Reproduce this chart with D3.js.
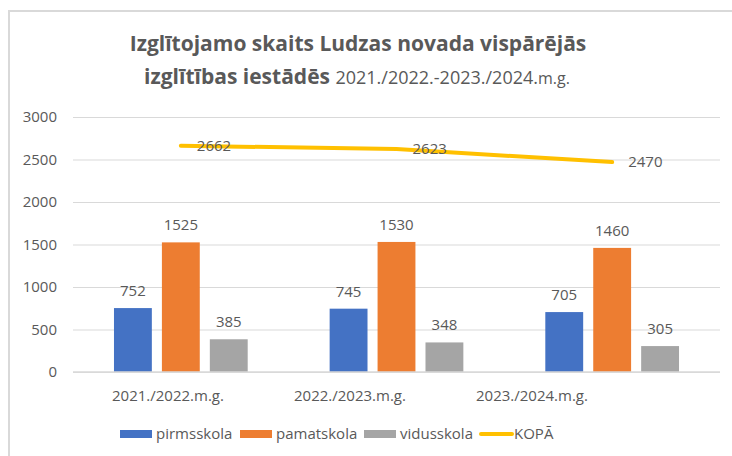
<!DOCTYPE html>
<html>
<head>
<meta charset="utf-8">
<script src="https://cdn.jsdelivr.net/npm/d3@7"></script>
<style>
  body { margin: 0; background: #fff; }
  svg { display: block; font-family: "Open Sans", "Noto Sans", sans-serif; }
</style>
</head>
<body>
<svg id="chart" width="732" height="456"></svg>
<script>
// data
const years = ["2021./2022.m.g.", "2022./2023.m.g.", "2023./2024.m.g."];
const seriesNames = ["pirmsskola", "pamatskola", "vidusskola"];
const pirmsskola = [752, 745, 705];
const pamatskola = [1525, 1530, 1460];
const vidusskola = [385, 348, 305];
const kopa = [2662, 2623, 2470];
const yTicks = [0, 500, 1000, 1500, 2000, 2500, 3000];

const colors = {
  pirmsskola: "#4472C4",
  pamatskola: "#ED7D31",
  vidusskola: "#A5A5A5",
  KOPĀ: "#FFC000"
};
const textColor = "#595959";
const gridColor = "#d9d9d9";

const rows = years.map((y, i) => ({
  year: y,
  pirmsskola: pirmsskola[i],
  pamatskola: pamatskola[i],
  vidusskola: vidusskola[i],
  kopa: kopa[i]
}));

const svg = d3.select("#chart");

// frame (chart border, cropped at right/bottom)
svg.append("path")
    .attr("d", "M9,456 V11 H732")
    .attr("fill", "none")
    .attr("stroke", gridColor)
    .attr("stroke-width", 2);

// title
const title = svg.append("text")
    .attr("text-anchor", "middle")
    .attr("fill", textColor);
title.append("tspan")
    .attr("x", 358).attr("y", 51)
    .attr("font-size", 21).attr("font-weight", "bold")
    .text("Izglītojamo skaits Ludzas novada vispārējās");
const t2 = title.append("tspan").attr("x", 357).attr("y", 84);
t2.append("tspan").attr("font-size", 21).attr("font-weight", "bold").text("izglītības iestādēs ");
t2.append("tspan").attr("font-size", 18).text("2021./2022.-2023./2024.");
t2.append("tspan").attr("font-size", 16).text("m.g.");

const plot = {left: 73, right: 720, top: 117, bottom: 372};

const x = d3.scaleBand()
    .domain(years)
    .range([plot.left, plot.right]);

const xInner = d3.scaleBand()
    .domain(seriesNames)
    .range([x.bandwidth() * 0.19, x.bandwidth() * 0.81])
    .paddingInner(0.21);

const y = d3.scaleLinear()
    .domain([0, 3000])
    .range([plot.bottom, plot.top]);

// gridlines + y labels
const yAxis = svg.append("g")
    .attr("transform", `translate(${plot.left},0)`)
    .call(d3.axisLeft(y)
        .tickValues(yTicks)
        .tickFormat(d3.format("d"))
        .tickSize(-(plot.right - plot.left))
        .tickPadding(16))
    .call(g => g.select(".domain").remove());
yAxis.selectAll(".tick line").attr("stroke", gridColor).attr("stroke-width", 1);
yAxis.selectAll(".tick text")
    .attr("fill", textColor)
    .attr("font-size", 15)
    .attr("font-family", "\"Open Sans\", \"Noto Sans\", sans-serif");

// bars
const groups = svg.append("g").selectAll("g")
  .data(rows)
  .join("g")
    .attr("transform", d => `translate(${x(d.year)},0)`);

groups.selectAll("rect")
  .data(d => seriesNames.map(k => ({key: k, value: d[k]})))
  .join("rect")
    .attr("x", d => xInner(d.key))
    .attr("width", xInner.bandwidth())
    .attr("y", d => y(d.value))
    .attr("height", d => y(0) - y(d.value))
    .attr("fill", d => colors[d.key]);

groups.selectAll(".bar-label")
  .data(d => seriesNames.map(k => ({key: k, value: d[k]})))
  .join("text")
    .attr("class", "bar-label")
    .attr("x", d => xInner(d.key) + xInner.bandwidth() / 2)
    .attr("y", d => y(d.value) - 12)
    .attr("text-anchor", "middle")
    .attr("font-size", 15)
    .attr("fill", textColor)
    .text(d => d.value);

// x baseline
svg.append("line")
    .attr("x1", plot.left).attr("x2", plot.right)
    .attr("y1", y(0)).attr("y2", y(0))
    .attr("stroke", gridColor).attr("stroke-width", 1.5);

// category labels (positioned as in the source picture)
const xLabel = d3.scalePoint()
    .domain(years)
    .range([168, 532]);

svg.append("g").selectAll("text")
  .data(years)
  .join("text")
    .attr("x", d => xLabel(d))
    .attr("y", 401)
    .attr("text-anchor", "middle")
    .attr("font-size", 15)
    .attr("fill", textColor)
    .text(d => d);

// total line
const cx = d => x(d.year) + x.bandwidth() / 2;
svg.append("path")
    .datum(rows)
    .attr("fill", "none")
    .attr("stroke", colors["KOPĀ"])
    .attr("stroke-width", 4)
    .attr("stroke-linecap", "round")
    .attr("d", d3.line().x(cx).y(d => y(d.kopa)));

svg.append("g").selectAll("text")
  .data(rows)
  .join("text")
    .attr("x", d => cx(d) + 16)
    .attr("y", d => y(d.kopa))
    .attr("dy", "0.35em")
    .attr("font-size", 15)
    .attr("fill", textColor)
    .text(d => d.kopa);

// legend
const legendItems = [
  {name: "pirmsskola", x: 120, type: "rect"},
  {name: "pamatskola", x: 240, type: "rect"},
  {name: "vidusskola", x: 364, type: "rect"},
  {name: "KOPĀ", x: 480, type: "line"}
];
const legend = svg.append("g").attr("transform", "translate(0,434)");
const li = legend.selectAll("g")
  .data(legendItems)
  .join("g")
    .attr("transform", d => `translate(${d.x},0)`);
li.filter(d => d.type === "rect").append("rect")
    .attr("y", -4).attr("width", 32).attr("height", 8)
    .attr("fill", d => colors[d.name]);
li.filter(d => d.type === "line").append("line")
    .attr("x1", 1).attr("x2", 32).attr("y1", 0).attr("y2", 0)
    .attr("stroke", d => colors[d.name]).attr("stroke-width", 4)
    .attr("stroke-linecap", "round");
li.append("text")
    .attr("x", d => d.type === "line" ? 34 : 36)
    .attr("dy", "0.35em")
    .attr("font-size", 15)
    .attr("fill", textColor)
    .text(d => d.name);
</script>
</body>
</html>
